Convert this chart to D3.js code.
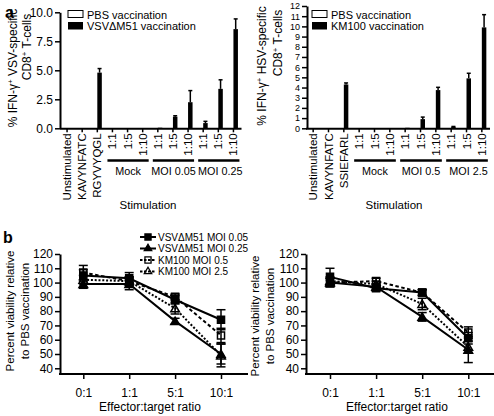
<!DOCTYPE html>
<html><head><meta charset="utf-8">
<script src="https://cdn.jsdelivr.net/npm/d3@7"></script>
<style>body{margin:0;background:#fff}svg{display:block;font-family:"Liberation Sans",Arial,Helvetica,sans-serif}</style>
</head><body><svg id="c" width="494" height="416"></svg>
<script>
// ---------- DATA ----------
const stimLabelsA = ["Unstimulated","KAVYNFATC","RGYVYQGL","1:1","1:5","1:10","1:1","1:5","1:10","1:1","1:5","1:10"];
const stimLabelsB = ["Unstimulated","KAVYNFATC","SSIEFARL","1:1","1:5","1:10","1:1","1:5","1:10","1:1","1:5","1:10"];
const groupNamesA = ["Mock","MOI 0.05","MOI 0.25"];
const groupNamesB = ["Mock","MOI 0.5","MOI 2.5"];
const groupStart = [3,6,9];
const pbsA    = [0,0,0,0,0,0,0,0,0,0,0,0];
const vsvA    = [0,0,4.8,0,0,0,0.05,1.0,2.25,0.45,3.4,8.55];
const vsvErrA = [0,0,0.35,0,0,0,0,0.08,1.0,0.15,0.78,0.88];
const pbsB    = [0,0,0,0,0,0,0,0,0,0,0,0];
const kmB     = [0,0,4.3,0,0,0,0.05,0.9,3.75,0.15,4.9,9.9];
const kmErrB  = [0,0,0.15,0,0,0,0,0.2,0.27,0.03,0.5,1.25];
const yTicksA = [0,2.5,5,7.5,10];
const yTicksB = [0,1,2,3,4,5,6,7,8,9,10,11,12];

const ratios = ["0:1","1:1","5:1","10:1"];
const seriesNames = ["VSV\u0394M51 MOI 0.05","VSV\u0394M51 MOI 0.25","KM100 MOI 0.5","KM100 MOI 2.5"];
const yTicksC = [40,50,60,70,80,90,100,110,120];
// left panel b
const vsv005L = [105,103,88,74],  vsv005LErr = [4,4,3,7];
const vsv025L = [99,99,73,50],    vsv025LErr = [3,4,2,7];
const km05L   = [107,101,90,63],  km05LErr   = [5,3,2,5];
const km25L   = [102,101,82,49],  km25LErr   = [3,3,4,8];
// right panel b
const vsv005R = [104,96,93,61],   vsv005RErr = [6,2,2,4];
const vsv025R = [100,97,76,53],   vsv025RErr = [3,2,3,9];
const km05R   = [100,101,93,65],  km05RErr   = [3,2,2,4];
const km25R   = [101,99,85,55],   km25RErr   = [3,2,4,4];

// ---------- DRAW ----------
const svg = d3.select("#c");
const FS = 11.5;

function styleAxis(a, fs){
  a.select(".domain").attr("stroke","#000").attr("stroke-width",2);
  a.selectAll(".tick line").attr("stroke","#000").attr("stroke-width",1.5);
  a.selectAll(".tick text").attr("fill","#000").style("font-size",(fs||FS)+"px").style("font-family",'"Liberation Sans",Arial,sans-serif');
}

function vText(g, x, yc, parts, fs){
  const t = g.append("text").attr("transform",`translate(${x},${yc}) rotate(-90)`)
    .attr("text-anchor","middle").attr("dy","0.35em").style("font-size",(fs||FS)+"px").attr("fill","#000");
  parts.forEach(p=>{
    const ts = t.append("tspan").text(p.t);
    if(p.sup){ ts.attr("dy",-4).style("font-size","8px"); }
    if(p.after){ ts.attr("dy",4); }
  });
  return t;
}

function barPanel(o){
  const g = svg.append("g");
  const x = d3.scaleBand().domain(d3.range(o.labels.length)).range([o.x0,o.x1]);
  const y = d3.scaleLinear().domain(o.yDom).range([o.yBase,o.yTop]);
  const bw = 4.5, c = i => x(i)+x.bandwidth()/2;
  g.selectAll("rect.pbs").data(o.pbs).join("rect").attr("class","pbs")
    .attr("x",(d,i)=>c(i)-bw).attr("y",d=>y(d)).attr("width",bw).attr("height",d=>y(0)-y(d))
    .attr("fill","#fff").attr("stroke","#000").attr("stroke-width",1);
  g.selectAll("rect.vac").data(o.vac).join("rect").attr("class","vac")
    .attr("x",(d,i)=>c(i)).attr("y",d=>y(d)).attr("width",bw).attr("height",d=>y(0)-y(d))
    .attr("fill","#000");
  o.vac.forEach((v,i)=>{
    const e=o.err[i]; if(!e) return;
    const cx=c(i)+bw/2;
    g.append("line").attr("x1",cx).attr("x2",cx).attr("y1",y(v)).attr("y2",y(v+e)).attr("stroke","#000").attr("stroke-width",1.5);
    g.append("line").attr("x1",cx-2).attr("x2",cx+2).attr("y1",y(v+e)).attr("y2",y(v+e)).attr("stroke","#000").attr("stroke-width",1.5);
  });
  const ya = g.append("g").attr("transform",`translate(${o.axisX},0)`)
    .call(d3.axisLeft(y).tickValues(o.yTicks).tickFormat(o.fmt).tickSize(5).tickSizeOuter(0).tickPadding(2));
  styleAxis(ya, o.tickFs);
  const xa = g.append("g").attr("transform",`translate(0,${o.yBase})`)
    .call(d3.axisBottom(x).tickSize(4).tickSizeOuter(0).tickFormat(""));
  styleAxis(xa);
  o.labels.forEach((l,i)=>{
    g.append("text").attr("transform",`translate(${c(i)},${o.yBase+5}) rotate(-90)`)
      .attr("text-anchor","end").attr("dy","0.35em").style("font-size",FS+"px").attr("fill","#000").text(l);
  });
  o.groups.forEach((gn,k)=>{
    const s=groupStart[k];
    const xa0=c(s)-5, xa1=c(s+2)+6;
    g.append("line").attr("x1",xa0).attr("x2",xa1).attr("y1",160.5).attr("y2",160.5).attr("stroke","#000").attr("stroke-width",2.5);
    g.append("text").attr("x",(xa0+xa1)/2+(k===2?1.5:0)).attr("y",174.5).attr("text-anchor","middle").style("font-size","10.8px").text(gn);
  });
  g.append("text").attr("x",o.stimX).attr("y",208.5).attr("text-anchor","middle").style("font-size",FS+"px").text("Stimulation");
  // legend
  g.append("rect").attr("x",o.legX).attr("y",10.5).attr("width",15).attr("height",7).attr("fill","#fff").attr("stroke","#000").attr("stroke-width",1);
  g.append("rect").attr("x",o.legX).attr("y",22).attr("width",15).attr("height",7.5).attr("fill","#000");
  g.append("text").attr("x",o.legX+19).attr("y",18.5).style("font-size","11px").text("PBS vaccination");
  g.append("text").attr("x",o.legX+19).attr("y",30).style("font-size","11px").text(o.legName);
  // y label
  vText(g,o.yl1,o.yc1,[{t:"% IFN-\u03B3"},{t:"+",sup:true},{t:" "+o.virus+"-specific",after:true}],12);
  vText(g,o.yl2,o.yc2,[{t:"CD8"},{t:"+",sup:true},{t:" T-cells",after:true}],12);
}

barPanel({labels:stimLabelsA,groups:groupNamesA,pbs:pbsA,vac:vsvA,err:vsvErrA,x0:59.5,x1:241,axisX:60,
  yDom:[0,10],yBase:128.3,yTop:12.3,yTicks:yTicksA,fmt:d3.format(".1f"),stimX:148,legX:68,tickFs:12,
  legName:"VSV\u0394M51 vaccination",virus:"VSV",yl1:13,yc1:68,yl2:27,yc2:47});
barPanel({labels:stimLabelsB,groups:groupNamesB,pbs:pbsB,vac:kmB,err:kmErrB,x0:305.5,x1:489.5,axisX:307,
  yDom:[0,12],yBase:128.3,yTop:6,yTicks:yTicksB,fmt:d3.format("d"),stimX:394,legX:312,tickFs:9,
  legName:"KM100 vaccination",virus:"HSV",yl1:262,yc1:66,yl2:278,yc2:43});

svg.append("text").attr("x",5).attr("y",18).style("font-size","16px").style("font-weight","bold").text("a");
svg.append("text").attr("x",3).attr("y",243).style("font-size","16px").style("font-weight","bold").text("b");

const styles = [
  {sym:d3.symbolSquare,size:50,fill:"#000",dash:null},
  {sym:d3.symbolTriangle,size:32,fill:"#000",dash:null},
  {sym:d3.symbolSquare,size:50,fill:"none",dash:"3.5,2.5"},
  {sym:d3.symbolTriangle,size:32,fill:"none",dash:"2,1.8"}
];

function linePanel(o){
  const g = svg.append("g");
  const x = d3.scalePoint().domain(ratios).range([o.xa,o.xb]);
  const y = d3.scaleLinear().domain([36,120]).range([374,254]);
  const ya = g.append("g").attr("transform",`translate(${o.axisX},0)`)
    .call(d3.axisLeft(y).tickValues(yTicksC).tickSize(5).tickSizeOuter(0).tickPadding(2));
  styleAxis(ya,12);
  const xa = g.append("g").attr("transform",`translate(0,374)`)
    .call(d3.axisBottom(x).tickSize(5).tickSizeOuter(0).tickPadding(9));
  xa.select(".domain").remove();
  styleAxis(xa,12);
  g.append("line").attr("x1",o.axisX-1).attr("x2",o.xEnd).attr("y1",374).attr("y2",374).attr("stroke","#000").attr("stroke-width",2);
  const line = d3.line().x((d,i)=>x(ratios[i])).y(d=>y(d));
  o.series.forEach((s,k)=>{
    g.append("path").attr("d",line(s.v)).attr("fill","none").attr("stroke","#000").attr("stroke-width",2)
      .attr("stroke-dasharray",styles[k].dash);
  });
  o.series.forEach((s,k)=>{
    s.v.forEach((v,i)=>{
      const cx=x(ratios[i]), e=s.e[i];
      g.append("line").attr("x1",cx).attr("x2",cx).attr("y1",y(v-e)).attr("y2",y(v+e)).attr("stroke","#000").attr("stroke-width",1.5);
      [v-e,v+e].forEach(w=>g.append("line").attr("x1",cx-4.5).attr("x2",cx+4.5).attr("y1",y(w)).attr("y2",y(w)).attr("stroke","#000").attr("stroke-width",1.5));
    });
  });
  o.series.forEach((s,k)=>{
    const st=styles[k];
    s.v.forEach((v,i)=>{
      g.append("path").attr("d",d3.symbol(st.sym,st.size)()).attr("transform",`translate(${x(ratios[i])},${y(v)+(st.sym===d3.symbolTriangle?1:0)})`)
        .attr("fill",st.fill).attr("stroke","#000").attr("stroke-width",1.5);
    });
  });
  g.append("text").attr("x",o.titleX).attr("y",411).attr("text-anchor","middle").style("font-size","12px").text("Effector:target ratio");
  vText(g,o.yl1,o.yc,[{t:"Percent viability relative"}],11.5);
  vText(g,o.yl2,o.yc,[{t:"to PBS vaccination"}],11.5);
  if(o.legend){
    const rows=[237,248.5,260,271.5];
    seriesNames.forEach((n,k)=>{
      const st=styles[k], ry=rows[k];
      g.append("line").attr("x1",140).attr("x2",156).attr("y1",ry).attr("y2",ry).attr("stroke","#000").attr("stroke-width",2).attr("stroke-dasharray",st.dash?"2.5,1.5":null);
      g.append("path").attr("d",d3.symbol(st.sym,st.size*0.75)()).attr("transform",`translate(148,${ry})`)
        .attr("fill",st.fill).attr("stroke","#000").attr("stroke-width",1.3);
      g.append("text").attr("x",158).attr("y",ry).attr("dy","0.35em").style("font-size","10px").text(n);
    });
  }
}

linePanel({xa:83.3,xb:221,axisX:60,xEnd:248,titleX:150,yl1:10,yl2:25,yc:311,legend:true,
  series:[{v:vsv005L,e:vsv005LErr},{v:vsv025L,e:vsv025LErr},{v:km05L,e:km05LErr},{v:km25L,e:km25LErr}]});
linePanel({xa:330,xb:468.3,axisX:306,xEnd:494,titleX:397,yl1:255,yl2:270,yc:316,legend:false,
  series:[{v:vsv005R,e:vsv005RErr},{v:vsv025R,e:vsv025RErr},{v:km05R,e:km05RErr},{v:km25R,e:km25RErr}]});
</script></body></html>
